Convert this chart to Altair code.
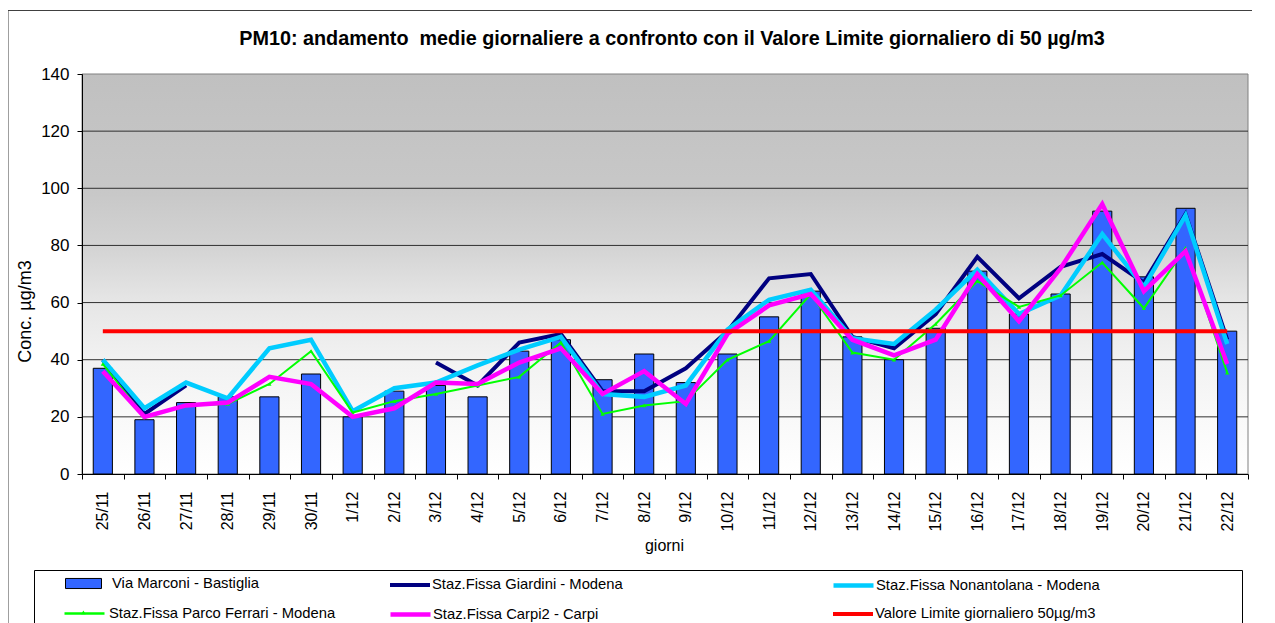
import altair as alt
import pandas as pd

days = ["25/11", "26/11", "27/11", "28/11", "29/11", "30/11", "1/12", "2/12", "3/12", "4/12",
        "5/12", "6/12", "7/12", "8/12", "9/12", "10/12", "11/12", "12/12", "13/12", "14/12",
        "15/12", "16/12", "17/12", "18/12", "19/12", "20/12", "21/12", "22/12"]

bastiglia = [37, 19, 25, 27, 27, 35, 20, 29, 31, 27, 43, 47, 33, 42, 32, 42, 55, 64, 48, 40,
             51, 71, 56, 63, 92, 69, 93, 50]
giardini = [40, 21, 31, None, None, None, None, None, 39, 31, 46, 49, 29, 29, 37, 50, 68.5, 70,
            48, 44, 56, 76, 61.5, 72.5, 77, 67, 91, 47]
nonantolana = [40, 23, 32, 26.5, 44, 47, 22, 30, 32, 38, 43.5, 48, 28, 27, 31, 50.5, 61, 64.5,
               47.5, 45.5, 57.5, 71.5, 56, 62.5, 84, 65.5, 90.5, 45.5]
ferrari = [38.5, 20, 24, 24.5, 31.5, 43, 21.5, 25.5, 28, 31, 34, 46, 21, 24, 25.5, 40, 46.5,
           63, 42.5, 40, 52.5, 67.5, 58.5, 62.5, 74, 58, 79, 35.5]
carpi = [36, 20, 24, 25, 34, 31.5, 20, 23, 32, 31.5, 39, 44, 28, 36, 24.5, 49, 59, 63, 47,
         41.5, 47, 70, 53.5, 72, 94.5, 64, 78, 38.5]
limite = [50, 50, 50, 50, 50, 50, 50, 50, 50, 50, 50, 50, 50, 50, 50, 50, 50, 50, 50, 50,
          50, 50, 50, 50, 50, 50, 50, 50]

y_ticks = [0, 20, 40, 60, 80, 100, 120, 140]
grid_values = [20, 40, 60, 80, 100, 120]

names = ["Via Marconi - Bastiglia", "Staz.Fissa Giardini - Modena",
         "Staz.Fissa Nonantolana - Modena", "Staz.Fissa Parco Ferrari - Modena",
         "Staz.Fissa Carpi2 - Carpi", "Valore Limite giornaliero 50µg/m3"]
colors = ["#3366ff", "#000080", "#00ccff", "#00ff00", "#ff00ff", "#ff0000"]
widths = [1, 4, 4.5, 2, 4.5, 4]
values = [bastiglia, giardini, nonantolana, ferrari, carpi, limite]

title_text = "PM10: andamento \u00a0medie giornaliere a confronto con il Valore Limite giornaliero di 50 µg/m3"

FONT = "Liberation Sans"
W, H = 1166, 400

rows = []
for name, vals in zip(names, values):
    for d, v in zip(days, vals):
        rows.append({"serie": name, "giorno": d, "valore": v})
long = pd.DataFrame(rows)

xenc = alt.X("giorno:N", sort=days, title="giorni",
             scale=alt.Scale(domain=days, paddingInner=0, paddingOuter=0),
             axis=alt.Axis(labelAngle=270, labelFontSize=16, labelFont=FONT, labelColor="black",
                           labelPadding=12, labelOverlap=False, tickBand="extent", tickSize=5,
                           tickColor="black", domainColor="black", grid=False,
                           titleFont=FONT, titleFontSize=16, titleFontWeight="normal",
                           titleColor="black", titleX=582, titleY=71, titleBaseline="middle",
                           titleAlign="center", zindex=2))
yenc = alt.Y("valore:Q", title="Conc. µg/m3",
             scale=alt.Scale(domain=[0, 140], nice=False, zero=True),
             axis=alt.Axis(values=y_ticks, labelFontSize=17, labelFont=FONT, labelColor="black",
                           labelPadding=8, tickSize=5, tickColor="black", domainColor="black",
                           grid=False, titleFont=FONT, titleFontSize=18, titleFontWeight="normal",
                           titleColor="black", titleAngle=270, titleX=-57, titleY=237,
                           titleBaseline="middle", titleAlign="center", zindex=2))

one = pd.DataFrame({"k": [0]})

frame_top = alt.Chart(one).mark_rule(color="#404040", strokeWidth=1).encode(
    x=alt.value(-74), x2=alt.value(W + 200), y=alt.value(-63.5))
frame_left = alt.Chart(one).mark_rule(color="#404040", strokeWidth=1).encode(
    x=alt.value(-74), y=alt.value(-63.5), y2=alt.value(H + 300))

legend_box = alt.Chart(one).mark_rect(fillOpacity=0, stroke="black", strokeWidth=1).encode(
    x=alt.value(-47.5), x2=alt.value(1160.5), y=alt.value(496.5), y2=alt.value(H + 300))

grad = alt.Gradient(
    gradient="linear", x1=0, y1=0, x2=0, y2=1,
    stops=[alt.GradientStop(color="#c0c0c0", offset=0),
           alt.GradientStop(color="#c8c8c8", offset=0.3),
           alt.GradientStop(color="#d3d3d3", offset=0.43),
           alt.GradientStop(color="#e6e6e6", offset=0.57),
           alt.GradientStop(color="#f2f2f2", offset=0.72),
           alt.GradientStop(color="#f9f9f9", offset=0.86),
           alt.GradientStop(color="#ffffff", offset=1)])

background = alt.Chart(one).mark_rect(color=grad, stroke="#808080", strokeWidth=1).encode(
    x=alt.value(0), x2=alt.value(W), y=alt.value(0), y2=alt.value(H))

grid = alt.Chart(pd.DataFrame({"valore": grid_values})).mark_rule(
    color="#303030", strokeWidth=1).encode(y=yenc)

bars = alt.Chart(long).transform_filter(alt.datum.serie == names[0]).mark_bar(
    width=alt.RelativeBandSize(0.46), fill=colors[0], stroke="black", strokeWidth=1
).encode(x=xenc, y=yenc)

line_layers = []
for i in range(1, 6):
    ln = alt.Chart(long).transform_filter(alt.datum.serie == names[i]).mark_line(
        color=colors[i], strokeWidth=widths[i], strokeJoin="miter",
        invalid="break-paths-show-domains"
    ).encode(x=xenc, y=yenc)
    line_layers.append(ln)
    if i == 3:
        mk = alt.Chart(long).transform_filter(alt.datum.serie == names[i]).mark_point(
            shape="triangle-up", filled=True, color=colors[i], size=18, opacity=1
        ).encode(x=xenc, y=yenc)
        line_layers.append(mk)

title_layer = alt.Chart(pd.DataFrame({"t": [title_text]})).mark_text(
    font=FONT, fontSize=19.8, fontWeight="bold", color="black", align="center",
    baseline="alphabetic").encode(text="t:N", x=alt.value(W / 2 + 7), y=alt.value(-29))

# legend entries: (legendX, legendY, labelOffset) relative to plot origin
leg_pos = [(-17, 491, 10), (306, 489, 0), (749, 489, 0), (-19, 518, 3), (306, 518, 0), (749, 518, 0)]
legend_layers = []
for i, name in enumerate(names):
    lx, ly, lo = leg_pos[i]
    if i == 0:
        mark = alt.Chart(alt.Data(values=[])).mark_point(filled=True, stroke="black", strokeWidth=1, opacity=1)
        leg = alt.Legend(orient="none", legendX=lx, legendY=ly, title=None, padding=0,
                         symbolType="M-1,-0.28H1V0.28H-1Z", symbolSize=1296,
                         symbolStrokeColor="black", symbolStrokeWidth=1,
                         labelFont=FONT, labelFontSize=14.8, labelColor="black", labelOffset=lo,
                         labelLimit=600)
    else:
        sw = widths[i] if widths[i] > 2 else 2.5
        mark = alt.Chart(alt.Data(values=[])).mark_point(filled=False, strokeWidth=sw, opacity=1)
        leg = alt.Legend(orient="none", legendX=lx, legendY=ly, title=None, padding=0,
                         symbolType="stroke", symbolSize=1600, symbolStrokeWidth=sw,
                         labelFont=FONT, labelFontSize=14.8, labelColor="black", labelOffset=lo,
                         labelLimit=600)
    legend_layers.append(mark.encode(
        color=alt.Color("serie:N", scale=alt.Scale(domain=[name], range=[colors[i]]), legend=leg)))

# small triangle marker on the Parco Ferrari legend line
marker_legend = alt.Chart(alt.Data(values=[])).mark_point(filled=True, opacity=1).encode(
    color=alt.Color("marker:N", scale=alt.Scale(domain=[names[3]], range=[colors[3]]),
                    legend=alt.Legend(orient="none", legendX=-1.6, legendY=535.4, title=None,
                                      padding=0, symbolType="triangle-up", symbolSize=20,
                                      labelExpr="''", labelOffset=0, labelFontSize=1)))

chart = alt.layer(
    frame_top, frame_left, legend_box, background, grid, bars, *line_layers, title_layer,
    *legend_layers, marker_legend
).resolve_scale(color="independent").properties(
    width=W, height=H,
    autosize=alt.AutoSizeParams(type="none"),
    padding={"left": 74, "top": 66, "right": 4, "bottom": 149},
    background="white",
).configure_view(stroke="transparent")

chart.save("out.html", embed_options={"renderer": "svg", "actions": False})
